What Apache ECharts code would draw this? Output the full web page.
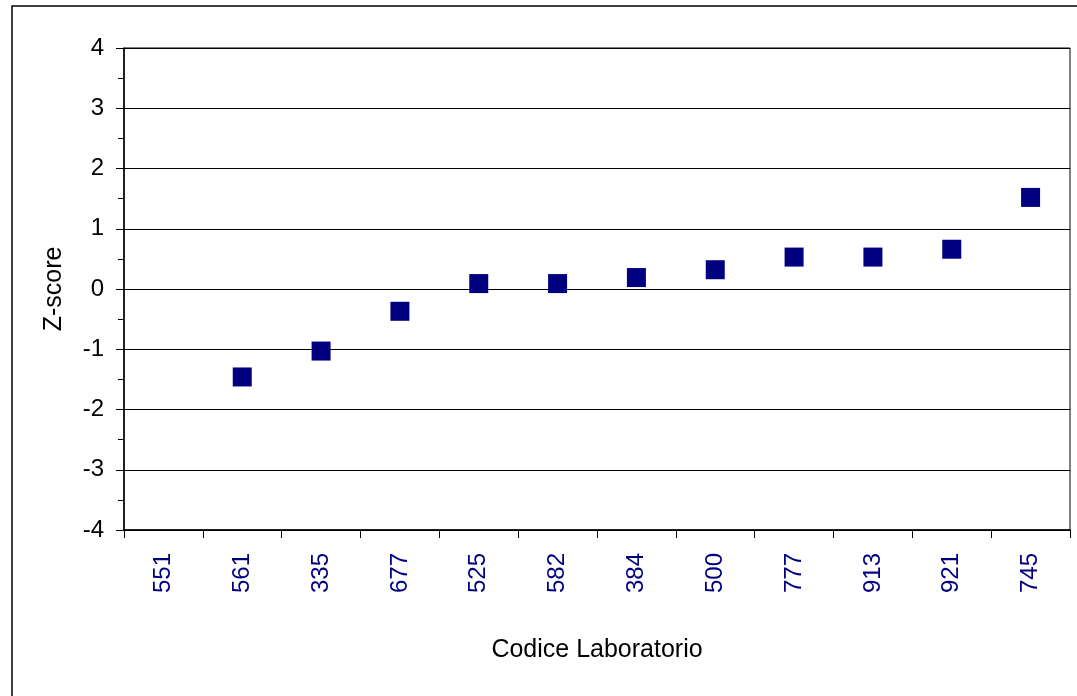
<!DOCTYPE html>
<html>
<head>
<meta charset="utf-8">
<script src="https://cdn.jsdelivr.net/npm/echarts@6/dist/echarts.min.js"></script>
<style>
    html, body { margin: 0; padding: 0; background: #fff; }
    #chart { width: 1077px; height: 696px; }
</style>
</head>
<body>
<div id="chart"></div>
<script>
// lab codes along the x axis
const labCodes = ['551', '561', '335', '677', '525', '582', '384', '500', '777', '913', '921', '745']
// z-score per lab (551 has no value)
const zScores = [null, -1.46, -1.03, -0.37, 0.09, 0.09, 0.19, 0.32, 0.53, 0.53, 0.66, 1.52]
const yTicks = { min: -4, max: 4, step: 1 }

const font = 'Liberation Sans, Arial, sans-serif'
const chart = echarts.init(document.getElementById('chart'))

chart.setOption({
    animation: false,
    backgroundColor: '#fff',
    graphic: [
        {
            type: 'rect',
            shape: { x: 12, y: 6, width: 1100, height: 720 },
            style: { fill: 'none', stroke: '#000', lineWidth: 1.5 },
            silent: true
        }
    ],
    grid: {
        left: 124,
        right: 7,
        top: 48,
        bottom: 166,
        show: true,
        borderColor: '#000',
        borderWidth: 1,
        backgroundColor: 'transparent'
    },
    xAxis: {
        type: 'category',
        data: labCodes,
        boundaryGap: true,
        name: 'Codice Laboratorio',
        nameLocation: 'middle',
        nameGap: 108,
        nameTextStyle: { fontFamily: font, fontSize: 25, color: '#000' },
        axisLine: { onZero: false, lineStyle: { color: '#000', width: 1.5 } },
        axisTick: { show: true, length: 8, alignWithLabel: false, lineStyle: { color: '#000' } },
        axisLabel: {
            rotate: 90,
            margin: 23,
            fontFamily: font,
            fontSize: 24,
            color: '#000080',
            interval: 0
        },
        splitLine: { show: false }
    },
    yAxis: {
        type: 'value',
        min: yTicks.min,
        max: yTicks.max,
        interval: yTicks.step,
        name: 'Z-score',
        nameLocation: 'middle',
        nameGap: 57,
        nameRotate: 90,
        nameTextStyle: { fontFamily: font, fontSize: 25, color: '#000' },
        axisLine: { show: true, lineStyle: { color: '#000', width: 1.5 } },
        axisTick: { show: true, length: 8, lineStyle: { color: '#000' } },
        minorTick: { show: true, splitNumber: 2, length: 6, lineStyle: { color: '#000' } },
        axisLabel: { fontFamily: font, fontSize: 24, color: '#000', margin: 20 },
        splitLine: { show: true, lineStyle: { color: '#000', width: 1.2 } }
    },
    series: [
        {
            type: 'scatter',
            data: zScores,
            symbol: 'rect',
            symbolSize: 19,
            itemStyle: { color: '#000080', opacity: 1 }
        }
    ]
})
</script>
</body>
</html>
